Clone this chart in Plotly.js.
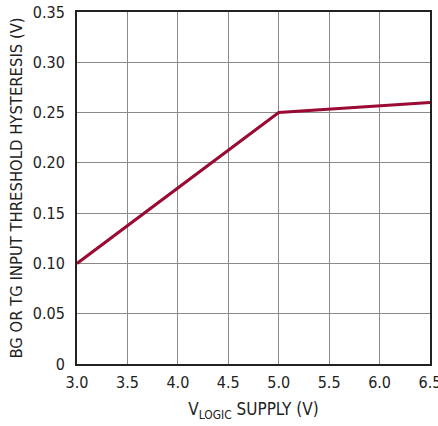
<!DOCTYPE html>
<html>
<head>
<meta charset="utf-8">
<script src="https://cdn.plot.ly/plotly-3.0.1.min.js"></script>
<style>html,body{margin:0;padding:0;background:#fff;}#chart{width:438px;height:426px;}</style>
</head>
<body>
<div id="chart"></div>
<script>
var vLogic = [3.0, 5.0, 6.5];
var hysteresis = [0.10, 0.25, 0.26];
var xTicks = [3.0, 3.5, 4.0, 4.5, 5.0, 5.5, 6.0, 6.5];
var xTickText = ["3.0", "3.5", "4.0", "4.5", "5.0", "5.5", "6.0", "6.5"];
var yTicks = [0, 0.05, 0.10, 0.15, 0.20, 0.25, 0.30, 0.35];
var yTickText = ["0", "0.05", "0.10", "0.15", "0.20", "0.25", "0.30", "0.35"];

var fontFam = "'DejaVu Sans Condensed', 'Liberation Sans', sans-serif";

var trace = {
  x: vLogic, y: hysteresis, mode: "lines", type: "scatter",
  line: {color: "#9a0a33", width: 3}, hoverinfo: "none"
};

var layout = {
  width: 438, height: 426,
  margin: {l: 77, r: 8, t: 12, b: 62},
  paper_bgcolor: "#fff", plot_bgcolor: "#fff",
  showlegend: false,
  font: {family: fontFam, size: 16, color: "#222"},
  xaxis: {
    range: [3.0, 6.5], tickvals: xTicks, ticktext: xTickText,
    showgrid: true, gridcolor: "#8a8a8a", gridwidth: 1,
    showline: true, linecolor: "#222", linewidth: 2, mirror: true,
    ticks: "", zeroline: false, ticklabeloverflow: "allow",
    ticklabelstandoff: 3,
    tickfont: {family: fontFam, size: 16, color: "#222"},
    title: {text: "V<sub>LOGIC</sub> SUPPLY (V)", font: {family: fontFam, size: 17, color: "#222"}, standoff: 12}
  },
  yaxis: {
    range: [0, 0.35], tickvals: yTicks, ticktext: yTickText,
    showgrid: true, gridcolor: "#8a8a8a", gridwidth: 1,
    showline: true, linecolor: "#222", linewidth: 2, mirror: true,
    ticks: "", zeroline: false,
    ticklabelstandoff: 7,
    tickfont: {family: fontFam, size: 16, color: "#222"},
    title: {text: "BG OR TG INPUT THRESHOLD HYSTERESIS (V)", font: {family: fontFam, size: 16.5, color: "#222"}, standoff: 6}
  }
};

Plotly.newPlot("chart", [trace], layout, {displayModeBar: false, staticPlot: true});
</script>
</body>
</html>
